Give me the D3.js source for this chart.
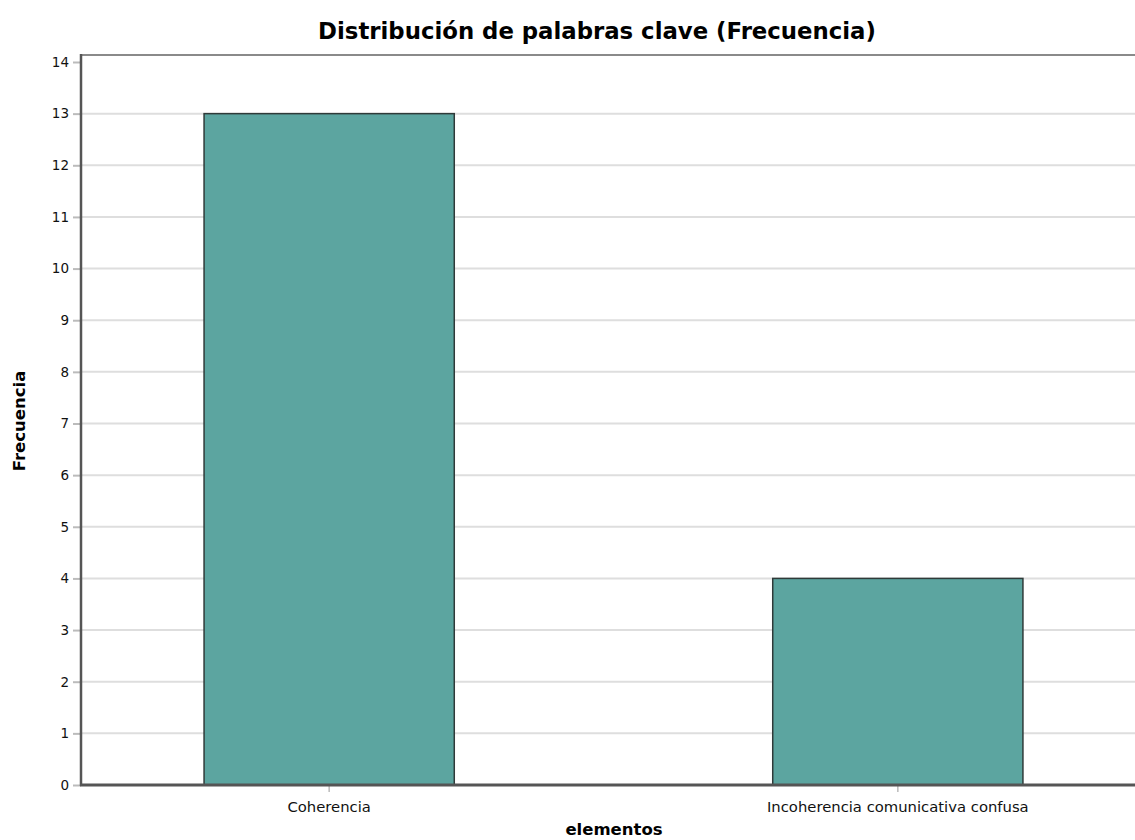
<!DOCTYPE html>
<html><head><meta charset="utf-8">
<script src="https://cdn.jsdelivr.net/npm/d3@7"></script>
<style>body{margin:0;background:#fff;overflow:hidden}</style>
</head><body>
<svg id="c" width="1135" height="840"></svg>
<script>
const categories = ["Coherencia", "Incoherencia comunicativa confusa"];
const values = [13, 4];
const yTicks = [0,1,2,3,4,5,6,7,8,9,10,11,12,13,14];
const title = "Distribución de palabras clave (Frecuencia)";
const xTitle = "elementos";
const yTitle = "Frecuencia";

const svg = d3.select("#c");
const mLeft = 81, mTop = 55, mBottom = 785, mRight = 1146;
const font = "'DejaVu Sans', Verdana, sans-serif";

const x = d3.scaleBand().domain(categories).range([mLeft, mRight]).paddingInner(0.56).paddingOuter(0.2164);
const y = d3.scaleLinear().domain([0, 14]).range([mBottom, 62]);

// grid
svg.append("g").selectAll("line").data(yTicks.filter(d => d > 0 && d < 14)).join("line")
  .attr("x1", mLeft).attr("x2", 1135).attr("y1", d => y(d)).attr("y2", d => y(d))
  .attr("stroke", "#dedede").attr("stroke-width", 2);

// top border
svg.append("line").attr("x1", mLeft).attr("x2", 1135).attr("y1", mTop).attr("y2", mTop)
  .attr("stroke", "#8a8a8a").attr("stroke-width", 2);

// bars
svg.append("g").selectAll("rect").data(categories).join("rect")
  .attr("x", d => x(d)).attr("width", x.bandwidth())
  .attr("y", (d,i) => y(values[i])).attr("height", (d,i) => y(0) - y(values[i]))
  .attr("fill", "#5ca5a0").attr("stroke", "#2f3a39").attr("stroke-width", 1.5);

// y axis
const ya = svg.append("g").attr("transform", `translate(${mLeft},0)`)
  .call(d3.axisLeft(y).tickValues(yTicks).tickSize(8).tickPadding(4).tickFormat(d3.format("d")));
ya.select(".domain").remove();
ya.selectAll(".tick line").attr("stroke", "#bbb").attr("stroke-width", 2);
ya.selectAll(".tick text").attr("font-family", font).attr("font-size", 13.5).attr("fill", "#111");
svg.append("line").attr("x1", mLeft).attr("x2", mLeft).attr("y1", mTop - 1).attr("y2", mBottom + 1)
  .attr("stroke", "#555").attr("stroke-width", 2.5);

// x axis
const xa = svg.append("g").attr("transform", `translate(0,${mBottom})`)
  .call(d3.axisBottom(x).tickSize(7).tickPadding(9));
xa.select(".domain").remove();
xa.selectAll(".tick line").attr("stroke", "#bbb").attr("stroke-width", 1.5);
xa.selectAll(".tick text").attr("font-family", font).attr("font-size", 14.8).attr("fill", "#111");
svg.append("line").attr("x1", mLeft - 1).attr("x2", 1135).attr("y1", mBottom).attr("y2", mBottom)
  .attr("stroke", "#555").attr("stroke-width", 3);

// titles
svg.append("text").attr("x", 597).attr("y", 39).attr("text-anchor", "middle")
  .attr("font-family", font).attr("font-weight", "bold").attr("font-size", 22.8).text(title);
svg.append("text").attr("x", 614).attr("y", 835).attr("text-anchor", "middle")
  .attr("font-family", font).attr("font-weight", "bold").attr("font-size", 16.5).text(xTitle);
svg.append("text").attr("transform", "translate(25,421) rotate(-90)").attr("text-anchor", "middle")
  .attr("font-family", font).attr("font-weight", "bold").attr("font-size", 16.5).text(yTitle);
</script>
</body></html>
